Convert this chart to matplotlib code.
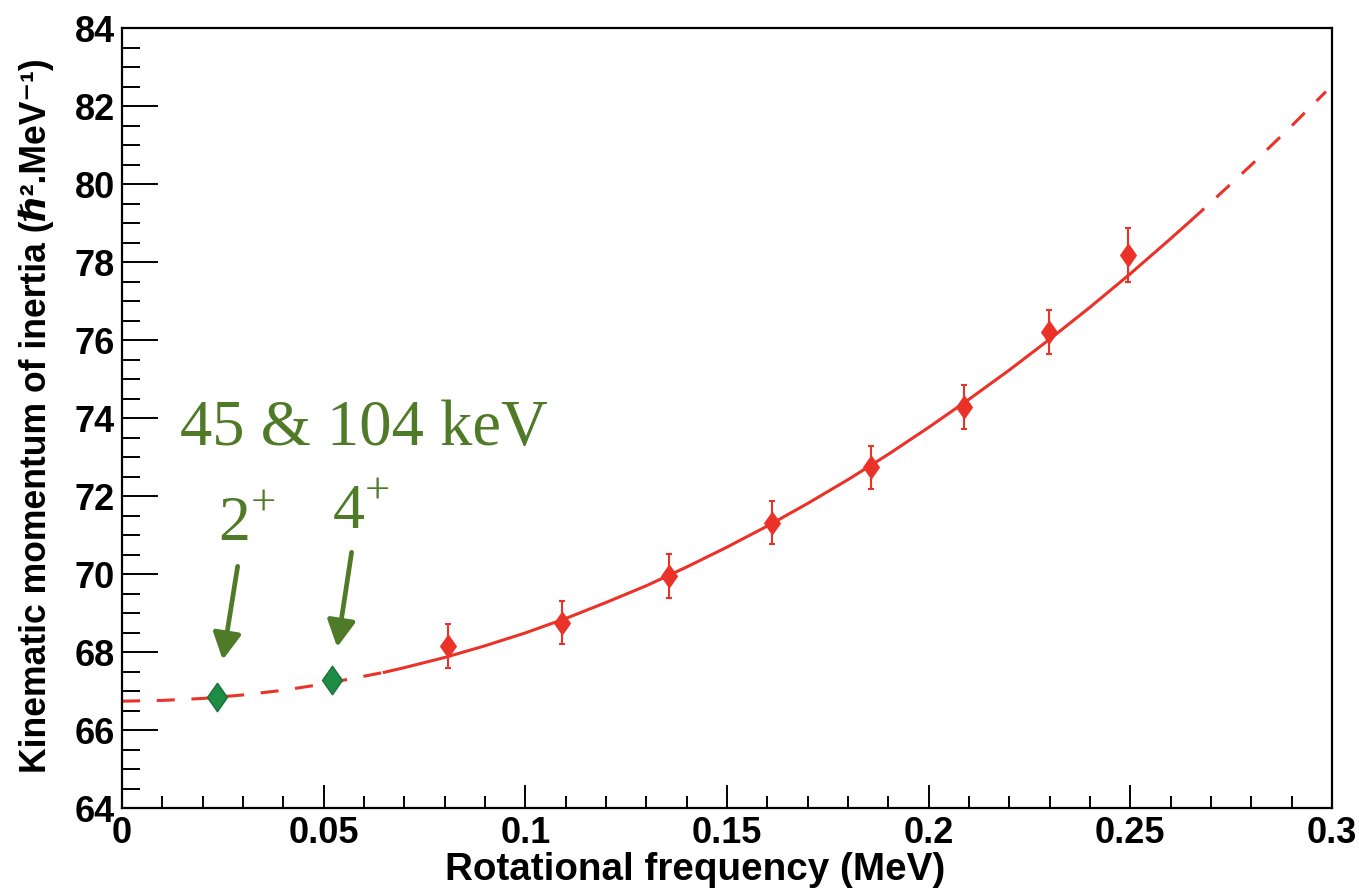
import matplotlib.pyplot as plt
from matplotlib.path import Path
from matplotlib.ticker import MultipleLocator

plt.rcParams['font.family'] = ['Liberation Sans', 'DejaVu Sans']
plt.rcParams['font.weight'] = 'bold'
plt.rcParams['mathtext.fontset'] = 'custom'
plt.rcParams['mathtext.rm'] = 'Liberation Serif:weight=normal'
plt.rcParams['lines.scale_dashes'] = False

# measured points (red) with errors
freq = [0.0808, 0.1092, 0.1357, 0.1612, 0.1856, 0.2088, 0.2298, 0.2495]
moi = [68.16, 68.75, 69.95, 71.32, 72.74, 74.29, 76.21, 78.18]
moi_err = [0.56, 0.55, 0.56, 0.54, 0.55, 0.56, 0.57, 0.69]

# extrapolated 2+ and 4+ (green)
freq_low = [0.0235, 0.0521]
moi_low = [66.85, 67.28]
spin_labels = ['$2^{+}$', '$4^{+}$']

# fit curve (dashed below 0.065 and above 0.265)
fit_x = [0, 0.01, 0.02, 0.03, 0.04, 0.05, 0.065, 0.07, 0.08, 0.09,
         0.10, 0.11, 0.12, 0.13, 0.14, 0.15, 0.16, 0.17, 0.18, 0.19,
         0.20, 0.21, 0.22, 0.23, 0.24, 0.25, 0.26, 0.265, 0.27, 0.28,
         0.29, 0.2985]
fit_y = [66.74, 66.76, 66.81, 66.90, 67.02, 67.18, 67.48, 67.60, 67.86, 68.16,
         68.49, 68.86, 69.27, 69.70, 70.18, 70.69, 71.23, 71.81, 72.42, 73.07,
         73.76, 74.48, 75.23, 76.02, 76.84, 77.70, 78.60, 79.06, 79.53, 80.49,
         81.49, 82.37]

red = '#eb3228'
green_pt = '#1f8c45'
green_txt = '#4f7a28'

diamond = Path([(0, 1), (0.7, 0), (0, -1), (-0.7, 0), (0, 1)],
               [Path.MOVETO, Path.LINETO, Path.LINETO, Path.LINETO, Path.CLOSEPOLY])

fig = plt.figure(figsize=(13.59, 8.90), dpi=100)
ax = fig.add_axes([0.0898, 0.0921, 0.8903, 0.8764])

dash = (0, (13, 12))
ax.plot(fit_x[:7], fit_y[:7], color=red, lw=2.2, ls=dash, zorder=2)
ax.plot(fit_x[6:28], fit_y[6:28], color=red, lw=2.2, zorder=2)
ax.plot(fit_x[27:], fit_y[27:], color=red, lw=2.2, ls=dash, zorder=2)

ax.errorbar(freq, moi, yerr=moi_err, fmt='none', ecolor=red, elinewidth=1.5,
            capsize=2.2, capthick=1.5, zorder=3)
ax.plot(freq, moi, ls='none', marker=diamond, ms=16, color=red, mec=red, zorder=4)
ax.plot(freq_low, moi_low, ls='none', marker=diamond, ms=20.5, mfc=green_pt,
        mec='#17703a', mew=1, zorder=4)

# arrows + spin labels
arrow_offsets = [((15, -94), 27), ((14, -92), 24)]
label_offsets = [(1, -112), (0, -109)]
for i in range(2):
    (tx, ty), shrink = arrow_offsets[i]
    ax.annotate('', xy=(freq_low[i], moi_low[i]), xytext=(tx, -ty),
                textcoords='offset points',
                arrowprops=dict(arrowstyle='-|>,head_length=1.6,head_width=0.85',
                                mutation_scale=10, lw=3.4, color=green_txt,
                                shrinkA=0, shrinkB=shrink))
    ax.annotate(spin_labels[i], xy=(freq_low[i], moi_low[i]),
                xytext=(label_offsets[i][0], -label_offsets[i][1]),
                textcoords='offset points', ha='left', va='baseline',
                fontsize=46, color=green_txt, fontweight='normal')

fig.text(180 / 1359, 1 - 445 / 890, '45 & 104 keV', fontsize=46.5, color=green_txt,
         family='Liberation Serif', fontweight='normal', ha='left', va='baseline')

ax.set_xlim(0, 0.3)
ax.set_ylim(64, 84)
ax.xaxis.set_minor_locator(MultipleLocator(0.01))
ax.yaxis.set_major_locator(MultipleLocator(2))
ax.yaxis.set_minor_locator(MultipleLocator(0.5))
ax.set_xticks([0, 0.05, 0.1, 0.15, 0.2, 0.25, 0.3])
ax.set_xticklabels(['0', '0.05', '0.1', '0.15', '0.2', '0.25', '0.3'])

ax.tick_params(axis='x', which='major', direction='in', length=16.5, width=1.4,
               labelsize=26, pad=6)
ax.tick_params(axis='x', which='minor', direction='in', length=8.3, width=1.4)
ax.tick_params(axis='y', which='major', direction='in', length=26, width=1.4,
               labelsize=26, pad=5)
ax.tick_params(axis='y', which='minor', direction='in', length=13, width=1.4)
for s in ax.spines.values():
    s.set_linewidth(1.6)

fig.text(695 / 1359, 1 - 880 / 890, 'Rotational frequency (MeV)', fontsize=27.8,
         ha='center', va='baseline')
fig.text(36 / 1359, 1 - 416 / 890, 'Kinematic momentum of inertia (\u210f\u00b2.MeV\u207b\u00b9)',
         fontsize=25.6, rotation=90, ha='center', va='center')

fig.savefig('out.png', dpi=100)
